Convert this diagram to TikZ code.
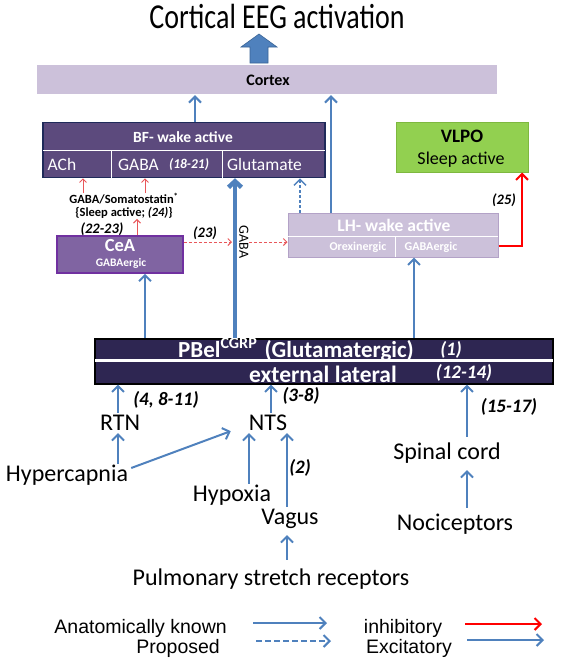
\documentclass[tikz,border=0pt]{standalone}
\usepackage{fontspec}
\setmainfont{Carlito}
\newfontfamily\legendfont{Liberation Sans}
\usetikzlibrary{arrows.meta}

\definecolor{arrowblue}{HTML}{4F81BD}
\definecolor{arrowedge}{HTML}{3A6496}
\definecolor{bffill}{HTML}{5C4A7D}
\definecolor{bfline}{HTML}{1F2A5A}
\definecolor{ceafill}{HTML}{8064A2}
\definecolor{cealine}{HTML}{7030A0}
\definecolor{lilac}{HTML}{CCC1DA}
\definecolor{lhline}{HTML}{B3A2C7}
\definecolor{vlpofill}{HTML}{92D050}
\definecolor{vlpoline}{HTML}{7EB83F}
\definecolor{pbfill}{HTML}{2E2652}
\definecolor{inhred}{HTML}{FF0000}
\definecolor{softred}{HTML}{E8575A}

\newcommand{\fsz}[1]{\fontsize{#1}{#1}\selectfont}

\begin{document}
\begin{tikzpicture}[x=1pt, y=-1pt,
    txt/.style={font=\fsz{#1}, inner sep=0pt, text depth=0pt,
      text height=\dimexpr #1pt*66/100\relax},
    lbl/.style={txt=24, inner sep=2pt},
    cite/.style={font=\bfseries\itshape\fsz{#1}, inner sep=0pt},
    wtext/.style={text=white},
    legend/.style={font=\legendfont\fsz{19.5}, inner sep=0pt},
    known/.style={draw=arrowblue, line width=2pt, -{Straight Barb[length=6pt, width=12pt]}},
    proposed/.style={known, dash pattern=on 6pt off 3pt},
    inhib/.style={draw=inhred, line width=2pt, -{Straight Barb[length=6pt, width=12pt]}},
    thinred/.style={draw=softred, line width=1pt, -{Straight Barb[length=3.5pt, width=7pt]}},
    dashred/.style={thinred, dash pattern=on 3pt off 2pt},
    boxsep/.style={draw=white, line width=1pt}]
  \useasboundingbox (0,0) rectangle (570,659);

  % columns of the connectors
  \coordinate (xbf) at (195,0);
  \coordinate (xlh) at (331,0);
  \coordinate (xredA) at (83,0);
  \coordinate (xredB) at (145,0);
  \coordinate (xcea) at (137,0);
  \coordinate (xthick) at (235,0);
  \coordinate (xdash) at (300,0);
  \coordinate (xceain) at (145,0);
  \coordinate (xlhin) at (414,0);
  \coordinate (xvlpo) at (522,0);
  \coordinate (xrtn) at (118,0);
  \coordinate (xnts) at (271,0);
  \coordinate (xsp) at (467,0);
  \coordinate (xhyp) at (249,0);
  \coordinate (xvag) at (287,0);
  \coordinate (ydash) at (0,242);
  \coordinate (yred) at (0,246);

  % top
  \node[txt=28] (eeg) at (277,19) {\scalebox{1}[1.25]{Cortical EEG activation}};
  \filldraw[fill=arrowblue, draw=arrowedge, line width=0.6pt] (250,63) -- (250,47) -- (241,47) -- (259,34)
    -- (277,47) -- (268,47) -- (268,63) -- cycle;
  \node[fill=lilac, minimum width=460pt, minimum height=29pt, inner sep=0pt] (cortex) at (267,79.5) {};
  \node[txt=16] (cortextxt) at (268,80) {\bfseries Cortex};

  % basal forebrain
  \node[draw=bfline, line width=1.5pt, fill=bffill, minimum width=282pt, minimum height=55pt, inner sep=0pt] (bf) at (184,150) {};
  \draw[boxsep] (43,150) -- (325,150);
  \draw[boxsep] (111,150) -- (111,178);
  \draw[boxsep] (222,150) -- (222,178);
  \node[txt=15.5, wtext] (bftitle) at (183,137) {\bfseries BF- wake active};
  \node[txt=17.5, wtext] (ach) at (62,165) {ACh};
  \node[txt=17.5, wtext] (gababf) at (138.5,165) {GABA};
  \node[cite=13.5, wtext] (cbf) at (189,165) {(18-21)};
  \node[txt=17.5, wtext] (glu) at (264.5,165) {Glutamate};

  % VLPO
  \node[draw=vlpoline, line width=1pt, fill=vlpofill, minimum width=132pt, minimum height=50pt, inner sep=0pt] (vlpo) at (462,147) {};
  \node[txt=19] (vlpotxt) at (462,136) {\bfseries VLPO};
  \node[txt=18] (sleep) at (461,159) {Sleep active};

  % CeA
  \node[draw=cealine, line width=1.5pt, fill=ceafill, minimum width=126pt, minimum height=37pt, inner sep=0pt] (cea) at (120,254.5) {};
  \node[txt=18.5, wtext] (ceatxt) at (120,245) {\bfseries CeA};
  \node[txt=11.5, wtext] (ceagaba) at (121,263) {\bfseries GABAergic};
  \node[align=center, inner sep=0pt, font=\bfseries\fontsize{12.5}{13}\selectfont] (soma) at (124,206)
    {GABA/Somatostatin\textsuperscript{*}\\\{Sleep active; \textit{(24)}\}};
  \node[cite=14.5] (c2223) at (102,229) {(22-23)};
  \node[cite=14.5] (c23) at (205,233) {(23)};
  \node[txt=14, rotate=-90] (gabatxt) at (244,242) {GABA};

  % lateral hypothalamus
  \node[draw=lhline, line width=1pt, fill=lilac, minimum width=210pt, minimum height=44pt, inner sep=0pt] (lh) at (393,235) {};
  \draw[boxsep] (288,236) -- (498,236);
  \draw[boxsep] (395,236) -- (395,257);
  \node[txt=17.5, wtext] (lhtitle) at (394,226) {\bfseries LH- wake active};
  \node[txt=12, wtext] (orex) at (358,247) {\bfseries Orexinergic};
  \node[txt=12, wtext] (lhgaba) at (431,247) {\bfseries GABAergic};
  \node[cite=14.5] (c25) at (504,200) {(25)};

  % PBel
  \node[draw=black, line width=2pt, fill=pbfill, minimum width=458pt, minimum height=45pt, inner sep=0pt] (pbel) at (324,361) {};
  \draw[draw=white, line width=3pt] (95,360) -- (553,360);
  \node[txt=23, wtext, anchor=west] (pbtitle) at (178,350) {\bfseries PBel\textsuperscript{CGRP}\hspace{2pt} (Glutamatergic)};
  \node[cite=19, wtext] (c1) at (451,350) {(1)};
  \node[txt=23.5, wtext] (extlat) at (323,375) {\bfseries external lateral};
  \node[cite=19, wtext] (c1214) at (464,373) {(12-14)};

  % inputs
  \node[lbl] (rtn) at (120,423) {RTN};
  \node[lbl] (nts) at (268,423) {NTS};
  \node[lbl] (hyper) at (67,474) {Hypercapnia};
  \node[lbl] (hypoxia) at (232,494) {Hypoxia};
  \node[lbl] (vagus) at (290,517) {Vagus};
  \node[lbl] (pulm) at (271,578) {Pulmonary stretch receptors};
  \node[lbl] (spinal) at (447,452) {Spinal cord};
  \node[lbl] (noci) at (455,523) {Nociceptors};
  \node[cite=19] (c4811) at (166,400) {(4, 8-11)};
  \node[cite=19] (c38) at (301,396) {(3-8)};
  \node[cite=19] (c1517) at (509,407) {(15-17)};
  \node[cite=19] (c2) at (300,468) {(2)};

  % connectors
  \draw[known, shorten >=1pt] (bf.north -| xbf) -- (cortex.south -| xbf);
  \draw[known, shorten >=1pt] (lh.north -| xlh) -- (cortex.south -| xlh);
  \draw[thinred] (soma.north -| xredA) -- (bf.south -| xredA);
  \draw[thinred] (soma.north -| xredB) -- (bf.south -| xredB);
  \draw[thinred] (cea.north -| xcea) -- (soma.south -| xcea);
  \draw[dashred, shorten >=3pt] (cea.east |- ydash) -- (xthick |- ydash);
  \draw[dashred] (gabatxt.north) -- (lh.west |- gabatxt.north);
  \draw[draw=arrowblue, line width=4.5pt, -{Straight Barb[length=6pt, width=13pt]}] (pbel.north -| xthick) -- (bf.south -| xthick);
  \draw[known, line width=1.5pt, dash pattern=on 3pt off 2pt] (lh.north -| xdash) -- (bf.south -| xdash);
  \draw[inhib] (lh.east |- yred) -| (vlpo.south -| xvlpo);
  \draw[known] (pbel.north -| xceain) -- (cea.south -| xceain);
  \draw[known] (pbel.north -| xlhin) -- (lh.south -| xlhin);
  \draw[known] (rtn.north -| xrtn) -- (pbel.south -| xrtn);
  \draw[known] (nts.north -| xnts) -- (pbel.south -| xnts);
  \draw[known, shorten <=5pt] (spinal.north -| xsp) -- (pbel.south -| xsp);
  \draw[known] (hyper.north -| xrtn) -- (rtn.south -| xrtn);
  \draw[known] ([xshift=1pt, yshift=6pt]hyper.east) -- ([xshift=-16pt, yshift=2pt]nts.south west);
  \draw[known] (hypoxia.north -| xhyp) -- (nts.south -| xhyp);
  \draw[known] (vagus.north -| xvag) -- (nts.south -| xvag);
  \draw[known, shorten <=8pt, shorten >=8pt] (pulm.north -| xvag) -- (vagus.south -| xvag);
  \draw[known, shorten <=5pt, shorten >=8pt] (noci.north -| xsp) -- (spinal.south -| xsp);

  % legend
  \node[legend, anchor=east] (lknown) at (227,628) {Anatomically known};
  \node[legend, anchor=east] (lprop) at (220,648) {Proposed};
  \node[legend] (linhib) at (403,628) {inhibitory};
  \node[legend] (lexc) at (409,648) {Excitatory};
  \coordinate (ka) at (253,623);
  \coordinate (kb) at (327,623);
  \coordinate (pa) at (256,641);
  \coordinate (pb) at (331,641);
  \coordinate (ia) at (465,624);
  \coordinate (ib) at (542,624);
  \coordinate (ea) at (467,640);
  \coordinate (eb) at (544,640);
  \draw[known] (ka) -- (kb);
  \draw[proposed] (pa) -- (pb);
  \draw[inhib] (ia) -- (ib);
  \draw[known] (ea) -- (eb);
\end{tikzpicture}
\end{document}
